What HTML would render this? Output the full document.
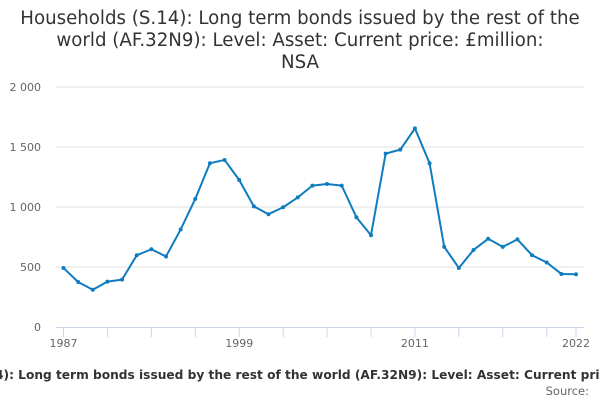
<!DOCTYPE html>
<html><head><meta charset="utf-8"><style>
body{margin:0;width:600px;height:400px;overflow:hidden;background:#fff;font-family:"DejaVu Sans","Liberation Sans",sans-serif}
</style></head><body>
<svg id="chart" width="600" height="400" xmlns="http://www.w3.org/2000/svg">
<g font-size="18.2" fill="#333" text-anchor="middle">
<text x="300" y="24">Households (S.14): Long term bonds issued by the rest of the</text>
<text x="300" y="46">world (AF.32N9): Level: Asset: Current price: £million:</text>
<text x="300" y="68">NSA</text>
</g>
<g id="grid"></g><g id="yaxis"></g><g id="xaxis"></g><g id="series"></g>
<text x="300" y="379" text-anchor="middle" font-size="12.2" font-weight="bold" fill="#333">Households (S.14): Long term bonds issued by the rest of the world (AF.32N9): Level: Asset: Current price: £million: NSA</text>
<text x="589" y="395" text-anchor="end" font-size="11.5" fill="#666">Source:</text>
</svg>
<script>
const years=[1987,1988,1989,1990,1991,1992,1993,1994,1995,1996,1997,1998,1999,2000,2001,2002,2003,2004,2005,2006,2007,2008,2009,2010,2011,2012,2013,2014,2015,2016,2017,2018,2019,2020,2021,2022];
const values=[492,375,310,378,395,598,648,588,812,1068,1365,1392,1225,1005,940,998,1080,1178,1192,1178,915,765,1445,1478,1655,1365,668,492,642,735,668,730,598,538,442,440];
const yTicks=[0,500,1000,1500,2000];
const yTickLabels=["0","500","1 000","1 500","2 000"];
const xLabelYears=[1987,1999,2011,2022];
const NS="http://www.w3.org/2000/svg";
const x0=63.5,x1=576,yb=327,yt=87;
const xs=y=>x0+(y-years[0])/(years[years.length-1]-years[0])*(x1-x0);
const ys=v=>yb-v/2000*(yb-yt);
function mk(t,a,p){const e=document.createElementNS(NS,t);for(const k in a)e.setAttribute(k,a[k]);p.appendChild(e);return e;}
const grid=document.getElementById('grid'),ya=document.getElementById('yaxis'),xa=document.getElementById('xaxis'),se=document.getElementById('series');
yTicks.forEach((v,i)=>{
 if(v>0){const l=mk('line',{x1:56,x2:584,y1:ys(v),y2:ys(v),stroke:'#e0e0e0','stroke-width':1},grid);
 
 }
 const t=mk('text',{x:41,y:ys(v)+4,'text-anchor':'end','font-size':11,fill:'#666'},ya);t.textContent=yTickLabels[i];
 
 
});
const ax=mk('line',{x1:56,x2:584,y1:yb+0.5,y2:yb+0.5,stroke:'#ccd6eb','stroke-width':1},xa);


years.forEach(y=>{
 if((y-years[0])%3===0||y===years[years.length-1]){
  const tk=mk('line',{x1:xs(y),x2:xs(y),y1:yb,y2:yb+10,stroke:'#ccd6eb','stroke-width':1},xa);
  
  
 }
});
xLabelYears.forEach(y=>{
 const t=mk('text',{x:xs(y),y:yb+20,'text-anchor':'middle','font-size':11,fill:'#666'},xa);t.textContent=y;
 
 
});
const d=values.map((v,i)=>(i?'L':'M')+xs(years[i])+' '+ys(v)).join(' ');
const p=mk('path',{d:d,fill:'none',stroke:'#0f7cc0','stroke-width':2,'stroke-linejoin':'round'},se);


values.forEach((v,i)=>{
 const c=mk('circle',{cx:xs(years[i]),cy:ys(v),r:2,fill:'#0f7cc0'},se);
 
 
});
</script>
</body></html>
